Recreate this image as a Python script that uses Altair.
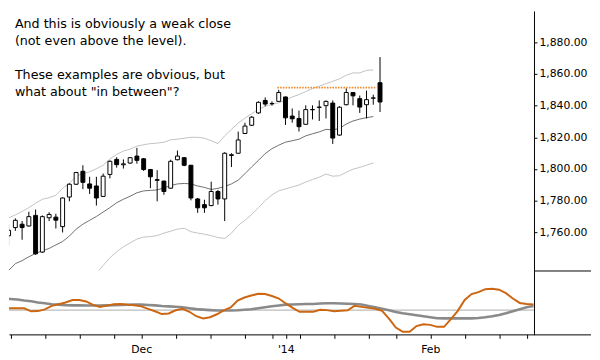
import json
import altair as alt
import pandas as pd

# ---- daily candles (trading-day index 0..55) ----
OPEN = [1757.7, 1762.9, 1765.0, 1763.9, 1770.6, 1747.4, 1769.1, 1769.5, 1763.5, 1782.2,
        1790.3, 1798.5, 1790.5, 1789.2, 1782.6, 1796.5, 1806.0, 1802.6, 1803.7, 1808.1,
        1806.4, 1799.6, 1793.2, 1792.3, 1787.8, 1805.8, 1807.1, 1802.3, 1781.0, 1777.4,
        1776.8, 1785.7, 1781.0, 1808.5, 1809.9, 1822.4, 1827.6, 1835.4, 1843.3, 1841.2,
        1842.7, 1845.5, 1833.4, 1831.9, 1828.2, 1837.4, 1838.9, 1840.0, 1841.6, 1821.4,
        1840.6, 1848.3, 1844.4, 1840.6, 1844.7, 1854.5]
HIGH = [1765.0, 1768.7, 1767.0, 1772.9, 1774.3, 1770.6, 1772.6, 1771.6, 1782.0, 1790.9,
        1798.1, 1802.3, 1795.0, 1795.0, 1797.1, 1805.4, 1807.4, 1806.0, 1807.4, 1813.3,
        1806.8, 1800.0, 1799.2, 1792.5, 1805.8, 1811.6, 1807.4, 1802.5, 1781.6, 1780.5,
        1791.9, 1786.7, 1810.5, 1809.9, 1823.6, 1829.2, 1833.4, 1842.7, 1845.2, 1842.7,
        1850.0, 1845.8, 1838.2, 1836.9, 1840.2, 1840.2, 1843.3, 1843.3, 1843.3, 1839.6,
        1851.0, 1848.5, 1846.4, 1849.5, 1846.9, 1870.7]
LOW = [1751.5, 1760.8, 1755.2, 1763.5, 1745.7, 1746.9, 1767.0, 1762.3, 1759.8, 1779.5,
       1789.8, 1787.2, 1784.2, 1776.8, 1782.2, 1794.0, 1800.8, 1800.2, 1803.3, 1803.3,
       1798.7, 1787.8, 1779.5, 1783.6, 1787.6, 1805.4, 1801.7, 1780.1, 1772.2, 1772.2,
       1776.4, 1777.4, 1767.0, 1801.2, 1809.7, 1822.0, 1827.1, 1834.8, 1839.6, 1840.0,
       1842.5, 1827.8, 1829.2, 1823.6, 1828.0, 1831.3, 1830.3, 1831.9, 1815.8, 1821.0,
       1840.2, 1840.2, 1835.4, 1831.9, 1840.6, 1836.0]
CLOSE = [1761.2, 1767.5, 1762.9, 1769.8, 1746.3, 1769.8, 1771.2, 1767.6, 1781.6, 1790.3,
         1797.7, 1791.5, 1787.8, 1781.6, 1795.4, 1804.8, 1802.7, 1803.2, 1807.1, 1805.4,
         1799.6, 1795.0, 1792.8, 1785.7, 1804.8, 1808.1, 1802.3, 1781.6, 1775.4, 1775.4,
         1785.7, 1781.0, 1809.9, 1809.0, 1818.3, 1827.1, 1832.7, 1842.1, 1841.0, 1841.4,
         1848.3, 1832.3, 1831.7, 1826.7, 1837.5, 1837.6, 1839.1, 1842.7, 1819.5, 1839.0,
         1848.3, 1846.2, 1839.1, 1843.8, 1844.9, 1842.3]

# ---- Bollinger bands ----
BB_UPPER = [1769.0, 1770.9, 1773.1, 1775.5, 1778.3, 1780.8, 1781.8, 1783.3, 1787.7, 1790.8,
            1795.4, 1797.0, 1798.2, 1800.1, 1802.3, 1806.3, 1809.1, 1811.3, 1812.5, 1814.4,
            1815.3, 1816.0, 1816.3, 1816.9, 1818.4, 1818.8, 1819.4, 1820.0, 1820.0, 1819.4,
            1817.8, 1816.0, 1820.9, 1825.0, 1829.0, 1832.1, 1834.9, 1837.7, 1839.6, 1840.8,
            1841.8, 1843.3, 1845.5, 1847.0, 1848.9, 1850.8, 1852.3, 1853.9, 1855.4, 1857.0,
            1859.2, 1860.7, 1860.7, 1862.3, 1862.6]
BB_MID = [1735.7, 1740.1, 1742.0, 1744.4, 1746.6, 1748.2, 1749.7, 1751.9, 1754.1, 1757.5,
          1761.9, 1765.0, 1767.5, 1769.9, 1772.7, 1775.5, 1778.6, 1780.8, 1782.7, 1784.9,
          1786.1, 1786.4, 1786.7, 1788.0, 1789.5, 1790.5, 1790.8, 1790.5, 1789.2, 1788.3,
          1787.0, 1787.7, 1788.9, 1790.5, 1792.9, 1797.0, 1801.3, 1805.4, 1809.7, 1812.8,
          1815.0, 1816.9, 1817.8, 1818.8, 1820.9, 1822.2, 1823.4, 1825.0, 1824.7, 1825.6,
          1828.4, 1830.3, 1831.5, 1832.4, 1833.1]
BB_LOWER_START = 12
BB_LOWER = [1727.7, 1733.9, 1738.9, 1743.8, 1747.6, 1750.7, 1753.2, 1755.6,
            1756.9, 1757.2, 1757.8, 1759.4, 1760.6, 1761.9, 1762.5, 1760.3, 1759.4, 1758.7,
            1757.8, 1756.6, 1756.0, 1759.4, 1764.3, 1767.5, 1771.2, 1775.5, 1779.9, 1783.6,
            1786.1, 1787.4, 1788.6, 1789.8, 1791.7, 1793.3, 1794.8, 1796.7, 1795.4, 1795.7,
            1797.9, 1799.8, 1801.0, 1802.3, 1803.8]

# ---- lower oscillator panel (index 0..77) ----
OSC_FAST = [0.16, 0.18, 0.20, 0.18, -0.12, -0.10, 0.08, 0.43, 0.60, 0.78,
            1.03, 1.03, 0.88, 0.53, 0.33, 0.46, 0.60, 0.63, 0.56, 0.50,
            0.38, 0.13, -0.12, -0.40, -0.34, -0.02, 0.13, -0.17, -0.62, -0.84,
            -0.72, -0.42, -0.02, 0.28, 0.98, 1.28, 1.48, 1.66, 1.63, 1.43,
            1.18, 0.68, 0.23, -0.17, -0.17, -0.17, 0.03, 0.00, -0.12, -0.07,
            -0.02, 0.43, 0.33, 0.23, 0.13, -0.07, -0.87, -1.77, -2.20, -2.20,
            -1.62, -1.44, -1.50, -1.70, -1.70, -0.92, -0.07, 1.03, 1.63, 1.83,
            2.13, 2.18, 2.08, 1.73, 1.18, 0.73, 0.63, 0.58]
OSC_SLOW = [1.16, 1.13, 1.08, 0.98, 0.90, 0.78, 0.70, 0.60, 0.56, 0.51,
            0.48, 0.48, 0.46, 0.46, 0.46, 0.48, 0.50, 0.53, 0.55, 0.56,
            0.56, 0.53, 0.48, 0.41, 0.38, 0.35, 0.30, 0.20, 0.10, 0.05,
            0.00, -0.04, -0.04, -0.04, -0.02, 0.03, 0.08, 0.20, 0.30, 0.40,
            0.48, 0.56, 0.58, 0.60, 0.63, 0.63, 0.68, 0.70, 0.70, 0.68,
            0.65, 0.63, 0.58, 0.43, 0.28, 0.13, -0.02, -0.20, -0.32, -0.42,
            -0.52, -0.62, -0.72, -0.82, -0.84, -0.84, -0.84, -0.84, -0.84, -0.80,
            -0.72, -0.62, -0.49, -0.32, -0.12, 0.08, 0.28, 0.43]

LEVEL = 1851.4
LEVEL_FROM, LEVEL_TO = 39.8, 54.5

TICKS = [1, 6, 11, 16, 20, 25, 30, 35, 39, 41, 43, 48, 53, 57, 62, 67, 72, 76]
MONTH_TICKS = [20, 41, 62]
MONTH_LABELS = ["Dec", "'14", "Feb"]
PRICE_TICKS = [1760, 1780, 1800, 1820, 1840, 1860, 1880]

NOTE_1 = ["And this is obviously a weak close", "(not even above the level)."]
NOTE_2 = ["These examples are obvious, but", 'what about "in between"?']

FONT = "DejaVu Sans"
W, H_TOP, H_BOT = 534, 264, 65
LINE_H = 17.5

# ---- tables ----
candles = pd.DataFrame({"i": range(len(OPEN)), "open": OPEN, "high": HIGH,
                        "low": LOW, "close": CLOSE})
bands = pd.concat([
    pd.DataFrame({"i": range(len(BB_UPPER)), "value": BB_UPPER, "band": "upper"}),
    pd.DataFrame({"i": range(len(BB_MID)), "value": BB_MID, "band": "mid"}),
    pd.DataFrame({"i": range(BB_LOWER_START, BB_LOWER_START + len(BB_LOWER)),
                  "value": BB_LOWER, "band": "lower"}),
])
osc = pd.DataFrame({"i": range(len(OSC_FAST)), "fast": OSC_FAST, "slow": OSC_SLOW})
level = pd.DataFrame({"x": [LEVEL_FROM], "x2": [LEVEL_TO], "y": [LEVEL]})
one = pd.DataFrame({"k": [0]})

xscale = alt.Scale(domain=[5.5 / 7, 539.5 / 7], nice=False, zero=False)
yscale = alt.Scale(domain=[1735.75, 1899.9], nice=False, zero=False)
yaxis = alt.Axis(orient="right", values=PRICE_TICKS, format=",.2f", title=None, grid=False,
                 tickSize=3, labelPadding=2, domainColor="black", tickColor="black",
                 labelColor="black", labelFont=FONT, labelFontSize=11)

X = alt.X("i:Q", scale=xscale, axis=None)

band_layer = alt.Chart(bands).mark_line(strokeWidth=1, clip=True).encode(
    x=X,
    y=alt.Y("value:Q", scale=yscale, axis=yaxis),
    color=alt.Color("band:N", scale=alt.Scale(domain=["upper", "mid", "lower"],
                                              range=["#c2c2c2", "#6e6e6e", "#c2c2c2"]),
                    legend=None),
    detail="band:N",
)
wicks = alt.Chart(candles).mark_rule(color="black", strokeWidth=1, clip=True).encode(
    x=X, y=alt.Y("low:Q", scale=yscale, axis=yaxis), y2="high:Q")
bodies = alt.Chart(candles).mark_bar(size=4, stroke="black", strokeWidth=1, clip=True).encode(
    x=X, y=alt.Y("open:Q", scale=yscale, axis=yaxis), y2="close:Q",
    fill=alt.condition("datum.close >= datum.open", alt.value("#ffffff"), alt.value("#000000")))
level_line = alt.Chart(level).mark_rule(color="#f08c30", strokeWidth=2,
                                        strokeDash=[1.6, 1.2]).encode(
    x=alt.X("x:Q", scale=xscale, axis=None), x2="x2:Q",
    y=alt.Y("y:Q", scale=yscale, axis=yaxis))


def note_block(lines, y):
    return alt.Chart(one).mark_text(align="left", baseline="alphabetic", font=FONT,
                                    fontSize=12.9, lineHeight=LINE_H, color="#000000").encode(
        x=alt.value(6), y=alt.value(y), text=alt.value(lines))


note1 = note_block(NOTE_1, 17)
note2 = note_block(NOTE_2, 17 + 3 * LINE_H)

upper = alt.layer(band_layer, wicks, bodies, level_line, note1, note2).properties(
    width=W, height=H_TOP)

label_expr = "".join(f"datum.value == {t} ? {json.dumps(l)} : "
                     for t, l in zip(MONTH_TICKS, MONTH_LABELS)) + "''"
xaxis = alt.Axis(values=TICKS, labelExpr=label_expr, tickSize=4, labelPadding=5, title=None,
                 grid=False, domainColor="black", tickColor="black", labelColor="black",
                 labelFont=FONT, labelFontSize=11, labelOverlap=False, labelFlush=False)
oscale = alt.Scale(domain=[-2.47, 4.03], nice=False, zero=False)
oaxis = alt.Axis(orient="right", labels=False, ticks=False, grid=False, title=None,
                 domainColor="black")
XL = alt.X("i:Q", scale=xscale, axis=xaxis)

zero = alt.Chart(pd.DataFrame({"v": [0.0]})).mark_rule(color="#bcbcbc", strokeWidth=1.4).encode(
    y=alt.Y("v:Q", scale=oscale, axis=oaxis))
slow = alt.Chart(osc).mark_line(color="#8a8a8a", strokeWidth=2.6, clip=True).encode(
    x=XL, y=alt.Y("slow:Q", scale=oscale, axis=oaxis))
fast = alt.Chart(osc).mark_line(color="#cc6611", strokeWidth=2, clip=True).encode(
    x=XL, y=alt.Y("fast:Q", scale=oscale, axis=oaxis))
divider = alt.Chart(one).mark_rule(color="black", strokeWidth=1).encode(
    x=alt.value(W), x2=alt.value(592), y=alt.value(0.5))
base_ext = alt.Chart(one).mark_rule(color="black", strokeWidth=1).encode(
    x=alt.value(W), x2=alt.value(592), y=alt.value(H_BOT + 0.5))

lower = alt.layer(zero, slow, fast, divider, base_ext).properties(width=W, height=H_BOT)

chart = alt.vconcat(upper, lower, spacing=0).properties(padding=0).configure_view(stroke=None)

chart.save("out.html", embed_options={"renderer": "svg", "actions": False})
